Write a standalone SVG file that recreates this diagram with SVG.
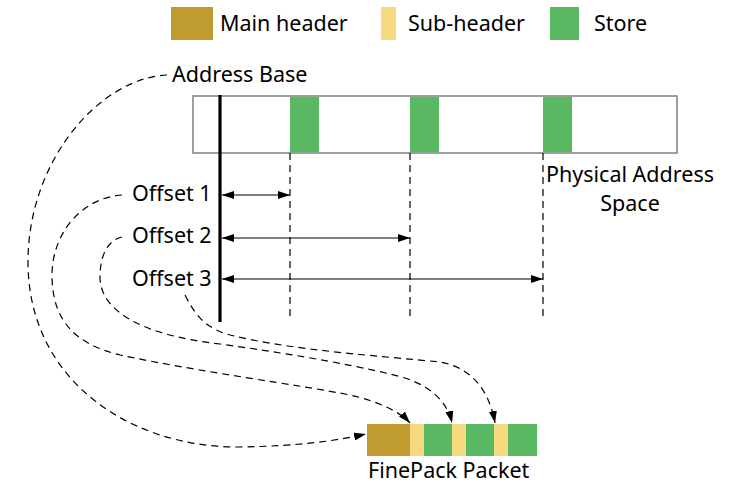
<svg xmlns="http://www.w3.org/2000/svg" width="754" height="501" viewBox="0 0 754 501">
<style>
text{font-family:"Noto Sans","Open Sans","DejaVu Sans",sans-serif;font-size:21.5px;fill:#000}
.main{fill:#BF9B30}
.sub{fill:#F7DA80}
.store{fill:#5BB862}
.dash{fill:none;stroke:#000;stroke-width:1.2;stroke-dasharray:7 5}
.arr{fill:none;stroke:#000;stroke-width:1.2}
</style>
<defs>
<marker id="ah" viewBox="0 0 12 8" refX="12" refY="4" markerWidth="12" markerHeight="8" markerUnits="userSpaceOnUse" orient="auto-start-reverse">
<path d="M0,0 L12,4 L0,8 Z" fill="#000"/>
</marker>
</defs>
<g id="legend">
<rect class="main" x="171" y="7" width="42" height="33"/>
<text x="220" y="31">Main header</text>
<rect class="sub" x="381" y="7" width="15" height="33"/>
<text x="408" y="31">Sub-header</text>
<rect class="store" x="550" y="7" width="29" height="33"/>
<text x="594" y="31">Store</text>
</g>
<g id="address-space">
<rect x="193" y="96" width="484" height="57" fill="#fff" stroke="#7f7f7f" stroke-width="1.5"/>
<rect class="store" x="290" y="96.8" width="29" height="55.5"/>
<rect class="store" x="410" y="96.8" width="29" height="55.5"/>
<rect class="store" x="543" y="96.8" width="29" height="55.5"/>
<text x="630" y="182" text-anchor="middle">Physical Address</text>
<text x="630" y="211" text-anchor="middle">Space</text>
</g>
<g id="address-base">
<line x1="220" y1="95" x2="220" y2="322" stroke="#000" stroke-width="3.2"/>
<text x="172" y="82">Address Base</text>
</g>
<g id="guides">
<line class="dash" x1="290" y1="153" x2="290" y2="318"/>
<line class="dash" x1="410" y1="153" x2="410" y2="318"/>
<line class="dash" x1="543" y1="153" x2="543" y2="318"/>
</g>
<g id="offset1"><text x="132" y="201">Offset 1</text></g>
<g id="offset2"><text x="132" y="243">Offset 2</text></g>
<g id="offset3"><text x="132" y="286">Offset 3</text></g>
<g id="packet">
<rect class="main" x="367" y="424" width="43" height="32"/>
<rect class="sub" x="410" y="424" width="14" height="32"/>
<rect class="store" x="424" y="424" width="28" height="32"/>
<rect class="sub" x="452" y="424" width="14" height="32"/>
<rect class="store" x="466" y="424" width="28" height="32"/>
<rect class="sub" x="494" y="424" width="14" height="32"/>
<rect class="store" x="508" y="424" width="29" height="32"/>
<text x="368" y="478">FinePack Packet</text>
</g>
<g id="connectors">
<line class="arr" x1="222" y1="195" x2="290" y2="195" marker-start="url(#ah)" marker-end="url(#ah)"/>
<line class="arr" x1="222" y1="238" x2="410" y2="238" marker-start="url(#ah)" marker-end="url(#ah)"/>
<line class="arr" x1="222" y1="279" x2="543" y2="279" marker-start="url(#ah)" marker-end="url(#ah)"/>
<path class="dash" d="M167,75 C100,78 28,160 28,262 C28,380 130,448 240,447 C300,446 335,441 366,434" marker-end="url(#ah)"/>
<path class="dash" d="M122,195 C80,198 52,235 52,275 C52,325 80,345 120,355 C200,372 300,385 350,395 C380,402 400,412 410,423" marker-end="url(#ah)"/>
<path class="dash" d="M122,237 C108,240 100,255 100,277 C100,310 140,335 220,344 C300,355 370,368 405,378 C435,388 448,405 452,423" marker-end="url(#ah)"/>
<path class="dash" d="M185,295 C195,315 205,328 230,335 C290,350 380,356 440,362 C475,368 490,395 495,423" marker-end="url(#ah)"/>
</g>
</svg>
